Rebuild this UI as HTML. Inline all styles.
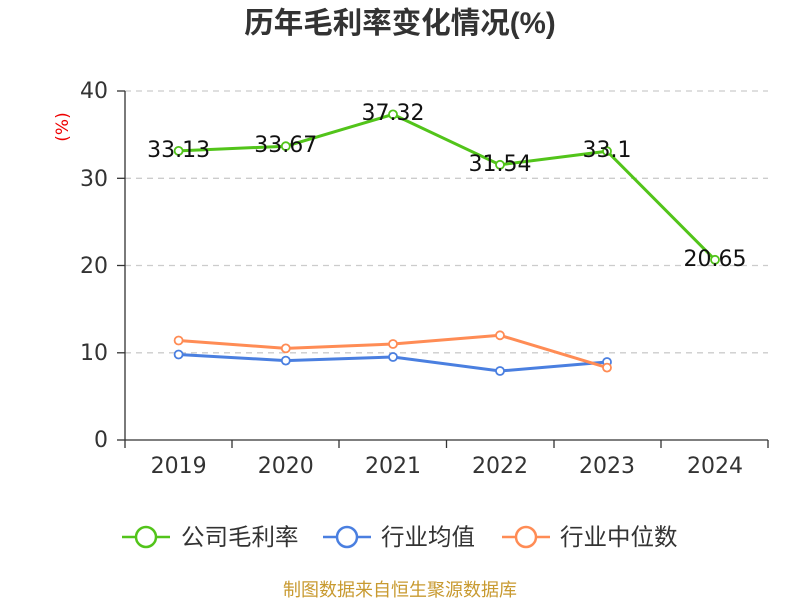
<!DOCTYPE html>
<html><head><meta charset="utf-8"><style>body{margin:0;background:#fff}svg{display:block}</style></head><body>
<svg width="800" height="600" xmlns="http://www.w3.org/2000/svg" font-family="'Liberation Sans','Noto Sans CJK SC',sans-serif">
<text x="400" y="33" text-anchor="middle" font-size="29.5" font-weight="bold" fill="#333">历年毛利率变化情况(%)</text>
<text x="68" y="127" font-size="17" fill="#e00" text-anchor="middle" transform="rotate(-90 68 127)" font-family="'DejaVu Sans',sans-serif">(%)</text>
<g stroke="#ccc" stroke-dasharray="6,5" stroke-width="1.3">
<line x1="125" y1="91" x2="768" y2="91"/><line x1="125" y1="178.3" x2="768" y2="178.3"/><line x1="125" y1="265.5" x2="768" y2="265.5"/><line x1="125" y1="352.8" x2="768" y2="352.8"/></g>
<g stroke="#333" stroke-width="1.3"><line x1="125" y1="91" x2="125" y2="440"/><line x1="125" y1="440" x2="768" y2="440"/>
<line x1="117" y1="91" x2="125" y2="91"/><line x1="117" y1="178.3" x2="125" y2="178.3"/><line x1="117" y1="265.5" x2="125" y2="265.5"/><line x1="117" y1="352.8" x2="125" y2="352.8"/><line x1="117" y1="440" x2="125" y2="440"/>
<line x1="125" y1="440" x2="125" y2="448"/><line x1="232" y1="440" x2="232" y2="448"/><line x1="339" y1="440" x2="339" y2="448"/><line x1="446.5" y1="440" x2="446.5" y2="448"/><line x1="554" y1="440" x2="554" y2="448"/><line x1="661" y1="440" x2="661" y2="448"/><line x1="768" y1="440" x2="768" y2="448"/></g>
<g font-family="'DejaVu Sans',sans-serif">
<g font-size="22" fill="#333" text-anchor="end"><text x="108" y="98">40</text><text x="108" y="186">30</text><text x="108" y="273">20</text><text x="108" y="360">10</text><text x="108" y="447">0</text></g>
<g font-size="22" fill="#333" text-anchor="middle"><text x="178.6" y="473">2019</text><text x="285.8" y="473">2020</text><text x="393" y="473">2021</text><text x="500" y="473">2022</text><text x="607" y="473">2023</text><text x="715" y="473">2024</text></g>
</g>
<polyline fill="none" stroke="#4a7fe0" stroke-width="3" points="178.6,354.5 285.8,360.6 393,357 500,371 607,362"/>
<polyline fill="none" stroke="#ff8c55" stroke-width="3" points="178.6,340.5 285.8,348.4 393,344 500,335.3 607,367.6"/>
<polyline fill="none" stroke="#52c41a" stroke-width="3" points="178.6,150.9 285.8,146.2 393,114.4 500,164.8 607,151.2 715,259.8"/>
<g fill="#fff" stroke-width="1.8">
<g stroke="#4a7fe0"><circle cx="178.6" cy="354.5" r="4"/><circle cx="285.8" cy="360.6" r="4"/><circle cx="393" cy="357" r="4"/><circle cx="500" cy="371" r="4"/><circle cx="607" cy="362" r="4"/></g>
<g stroke="#ff8c55"><circle cx="178.6" cy="340.5" r="4"/><circle cx="285.8" cy="348.4" r="4"/><circle cx="393" cy="344" r="4"/><circle cx="500" cy="335.3" r="4"/><circle cx="607" cy="367.6" r="4"/></g>
<g stroke="#52c41a"><circle cx="178.6" cy="150.9" r="4"/><circle cx="285.8" cy="146.2" r="4"/><circle cx="393" cy="114.4" r="4"/><circle cx="500" cy="164.8" r="4"/><circle cx="607" cy="151.2" r="4"/><circle cx="715" cy="259.8" r="4"/></g></g>
<g font-size="22" fill="#111" text-anchor="middle" font-family="'DejaVu Sans',sans-serif"><text x="178.6" y="157">33.13</text><text x="285.8" y="152">33.67</text><text x="393" y="120">37.32</text><text x="500" y="171">31.54</text><text x="607" y="157">33.1</text><text x="715" y="266">20.65</text></g>
<g stroke-width="2.5" fill="#fff">
<line x1="122" y1="537" x2="170" y2="537" stroke="#52c41a"/><circle cx="146" cy="537" r="10" stroke="#52c41a"/>
<line x1="323" y1="537" x2="371" y2="537" stroke="#4a7fe0"/><circle cx="347" cy="537" r="10" stroke="#4a7fe0"/>
<line x1="502" y1="537" x2="550" y2="537" stroke="#ff8c55"/><circle cx="526" cy="537" r="10" stroke="#ff8c55"/></g>
<g font-size="23.5" fill="#333"><text x="181" y="545">公司毛利率</text><text x="381" y="545">行业均值</text><text x="560" y="545">行业中位数</text></g>
<text x="400" y="596" text-anchor="middle" font-size="18" fill="#c89a30">制图数据来自恒生聚源数据库</text>
</svg></body></html>
